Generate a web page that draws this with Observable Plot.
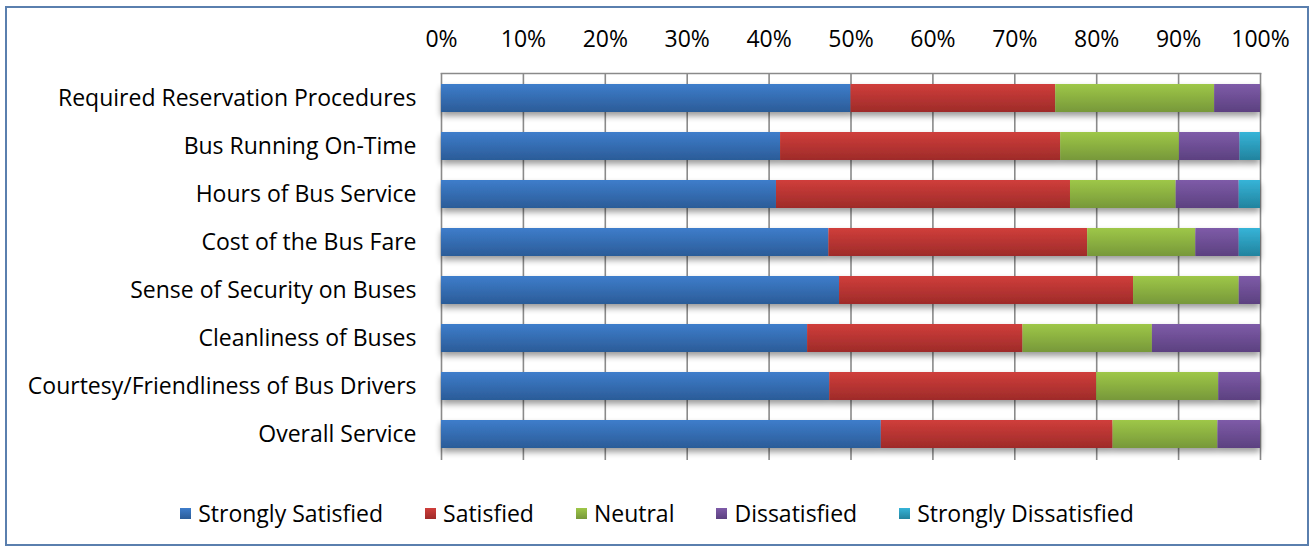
<!DOCTYPE html>
<html>
<head>
<meta charset="utf-8">
<script src="https://cdn.jsdelivr.net/npm/d3@7"></script>
<script src="https://cdn.jsdelivr.net/npm/@observablehq/plot@0.6"></script>
<style>
  body { margin: 0; background: #fff; }
  #chart { position: relative; width: 1314px; height: 552px; overflow: hidden; font-family: "Open Sans", sans-serif; color: #000; }
  #border { position: absolute; left: 5px; top: 6px; width: 1300px; height: 536px; border: 2px solid #5a7fae; pointer-events: none; }
  #plot { position: absolute; left: 0; top: 0; }
  #legend { position: absolute; top: 497px; left: 0; width: 1314px; display: flex; justify-content: center; align-items: center; gap: 42px; font-size: 23px; }
  #legend .item { display: flex; align-items: center; gap: 7px; white-space: nowrap; }
  #legend .swatch { width: 11px; height: 11px; display: inline-block; }
</style>
</head>
<body>
<div id="chart">
  <div id="plot"></div>
  <div id="legend"></div>
  <div id="border"></div>
</div>
<script>
// Survey questions, top to bottom
const questions = [
  "Required Reservation Procedures",
  "Bus Running On-Time",
  "Hours of Bus Service",
  "Cost of the Bus Fare",
  "Sense of Security on Buses",
  "Cleanliness of Buses",
  "Courtesy/Friendliness of Bus Drivers",
  "Overall Service"
];

// Response categories, in stacking order
const series = ["Strongly Satisfied", "Satisfied", "Neutral", "Dissatisfied", "Strongly Dissatisfied"];

// Share of responses (%) per question
const stronglySatisfied    = [50.0, 41.4, 40.9, 47.3, 48.6, 44.7, 47.4, 53.7];
const satisfied            = [25.0, 34.2, 35.9, 31.6, 35.9, 26.3, 32.6, 28.3];
const neutral              = [19.4, 14.5, 12.9, 13.2, 12.9, 15.8, 14.9, 12.8];
const dissatisfied         = [ 5.6,  7.4,  7.7,  5.3,  2.6, 13.2,  5.1,  5.2];
const stronglyDissatisfied = [ 0.0,  2.5,  2.6,  2.6,  0.0,  0.0,  0.0,  0.0];

// Axis ticks
const xTicks = [0, 10, 20, 30, 40, 50, 60, 70, 80, 90, 100];

// Gradient stops (top, bottom) for each category
const colorTop    = ["#3e7dcb", "#d03e3b", "#9ec748", "#7e5ba8", "#36b4d8"];
const colorBottom = ["#2b5c98", "#9e2b29", "#77983a", "#5c4180", "#22839e"];

const seriesValues = [stronglySatisfied, satisfied, neutral, dissatisfied, stronglyDissatisfied];
const rows = [];
series.forEach((s, si) => {
  questions.forEach((q, qi) => rows.push({question: q, series: s, value: seriesValues[si][qi]}));
});

const fontFamily = "'Open Sans', sans-serif";

const svg = Plot.plot({
  width: 1314,
  height: 480,
  marginTop: 73,
  marginBottom: 20,
  marginLeft: 441,
  marginRight: 54,
  style: {fontFamily, fontSize: "23px", color: "#000", background: "transparent"},
  x: {domain: [0, 100], axis: null},
  y: {domain: questions, paddingInner: 0.41, paddingOuter: 0.205, axis: null},
  color: {domain: series, range: series.map((_, i) => `url(#grad-${i})`)},
  marks: [
    Plot.gridX(xTicks, {stroke: "#8a8a8a", strokeOpacity: 1, strokeWidth: 1.6}),
    Plot.frame({anchor: "top", stroke: "#8a8a8a", strokeWidth: 1.6}),
    Plot.barX(rows, {x: "value", y: "question", fill: "series", order: series}),
    Plot.axisX(xTicks, {anchor: "top", tickSize: 0, tickPadding: 27, tickFormat: d => d + "%", label: null, fontSize: 23, fill: "#000"}),
    Plot.axisY({anchor: "left", tickSize: 0, tickPadding: 25, label: null, fontSize: 23, fill: "#000"})
  ]
});

// Gradient fills and soft drop shadow for the bars
const defs = d3.select(svg).insert("defs", ":first-child");
series.forEach((_, i) => {
  const g = defs.append("linearGradient").attr("id", `grad-${i}`)
    .attr("x1", 0).attr("y1", 0).attr("x2", 0).attr("y2", 1);
  g.append("stop").attr("offset", "0%").attr("stop-color", colorTop[i]);
  g.append("stop").attr("offset", "100%").attr("stop-color", colorBottom[i]);
});
const f = defs.append("filter").attr("id", "bar-shadow")
  .attr("x", "-5%").attr("y", "-20%").attr("width", "110%").attr("height", "160%");
f.append("feGaussianBlur").attr("in", "SourceAlpha").attr("stdDeviation", 3);
f.append("feOffset").attr("dy", 4).attr("result", "blur");
f.append("feComponentTransfer").append("feFuncA").attr("type", "linear").attr("slope", 0.4);
const merge = f.append("feMerge");
merge.append("feMergeNode");
merge.append("feMergeNode").attr("in", "SourceGraphic");
d3.select(svg).selectAll("g[aria-label='bar']").attr("filter", "url(#bar-shadow)");

document.getElementById("plot").appendChild(svg);

// Legend
const legend = d3.select("#legend");
series.forEach((s, i) => {
  const item = legend.append("div").attr("class", "item");
  item.append("span").attr("class", "swatch")
    .style("background", `linear-gradient(${colorTop[i]}, ${colorBottom[i]})`);
  item.append("span").text(s);
});
</script>
</body>
</html>
